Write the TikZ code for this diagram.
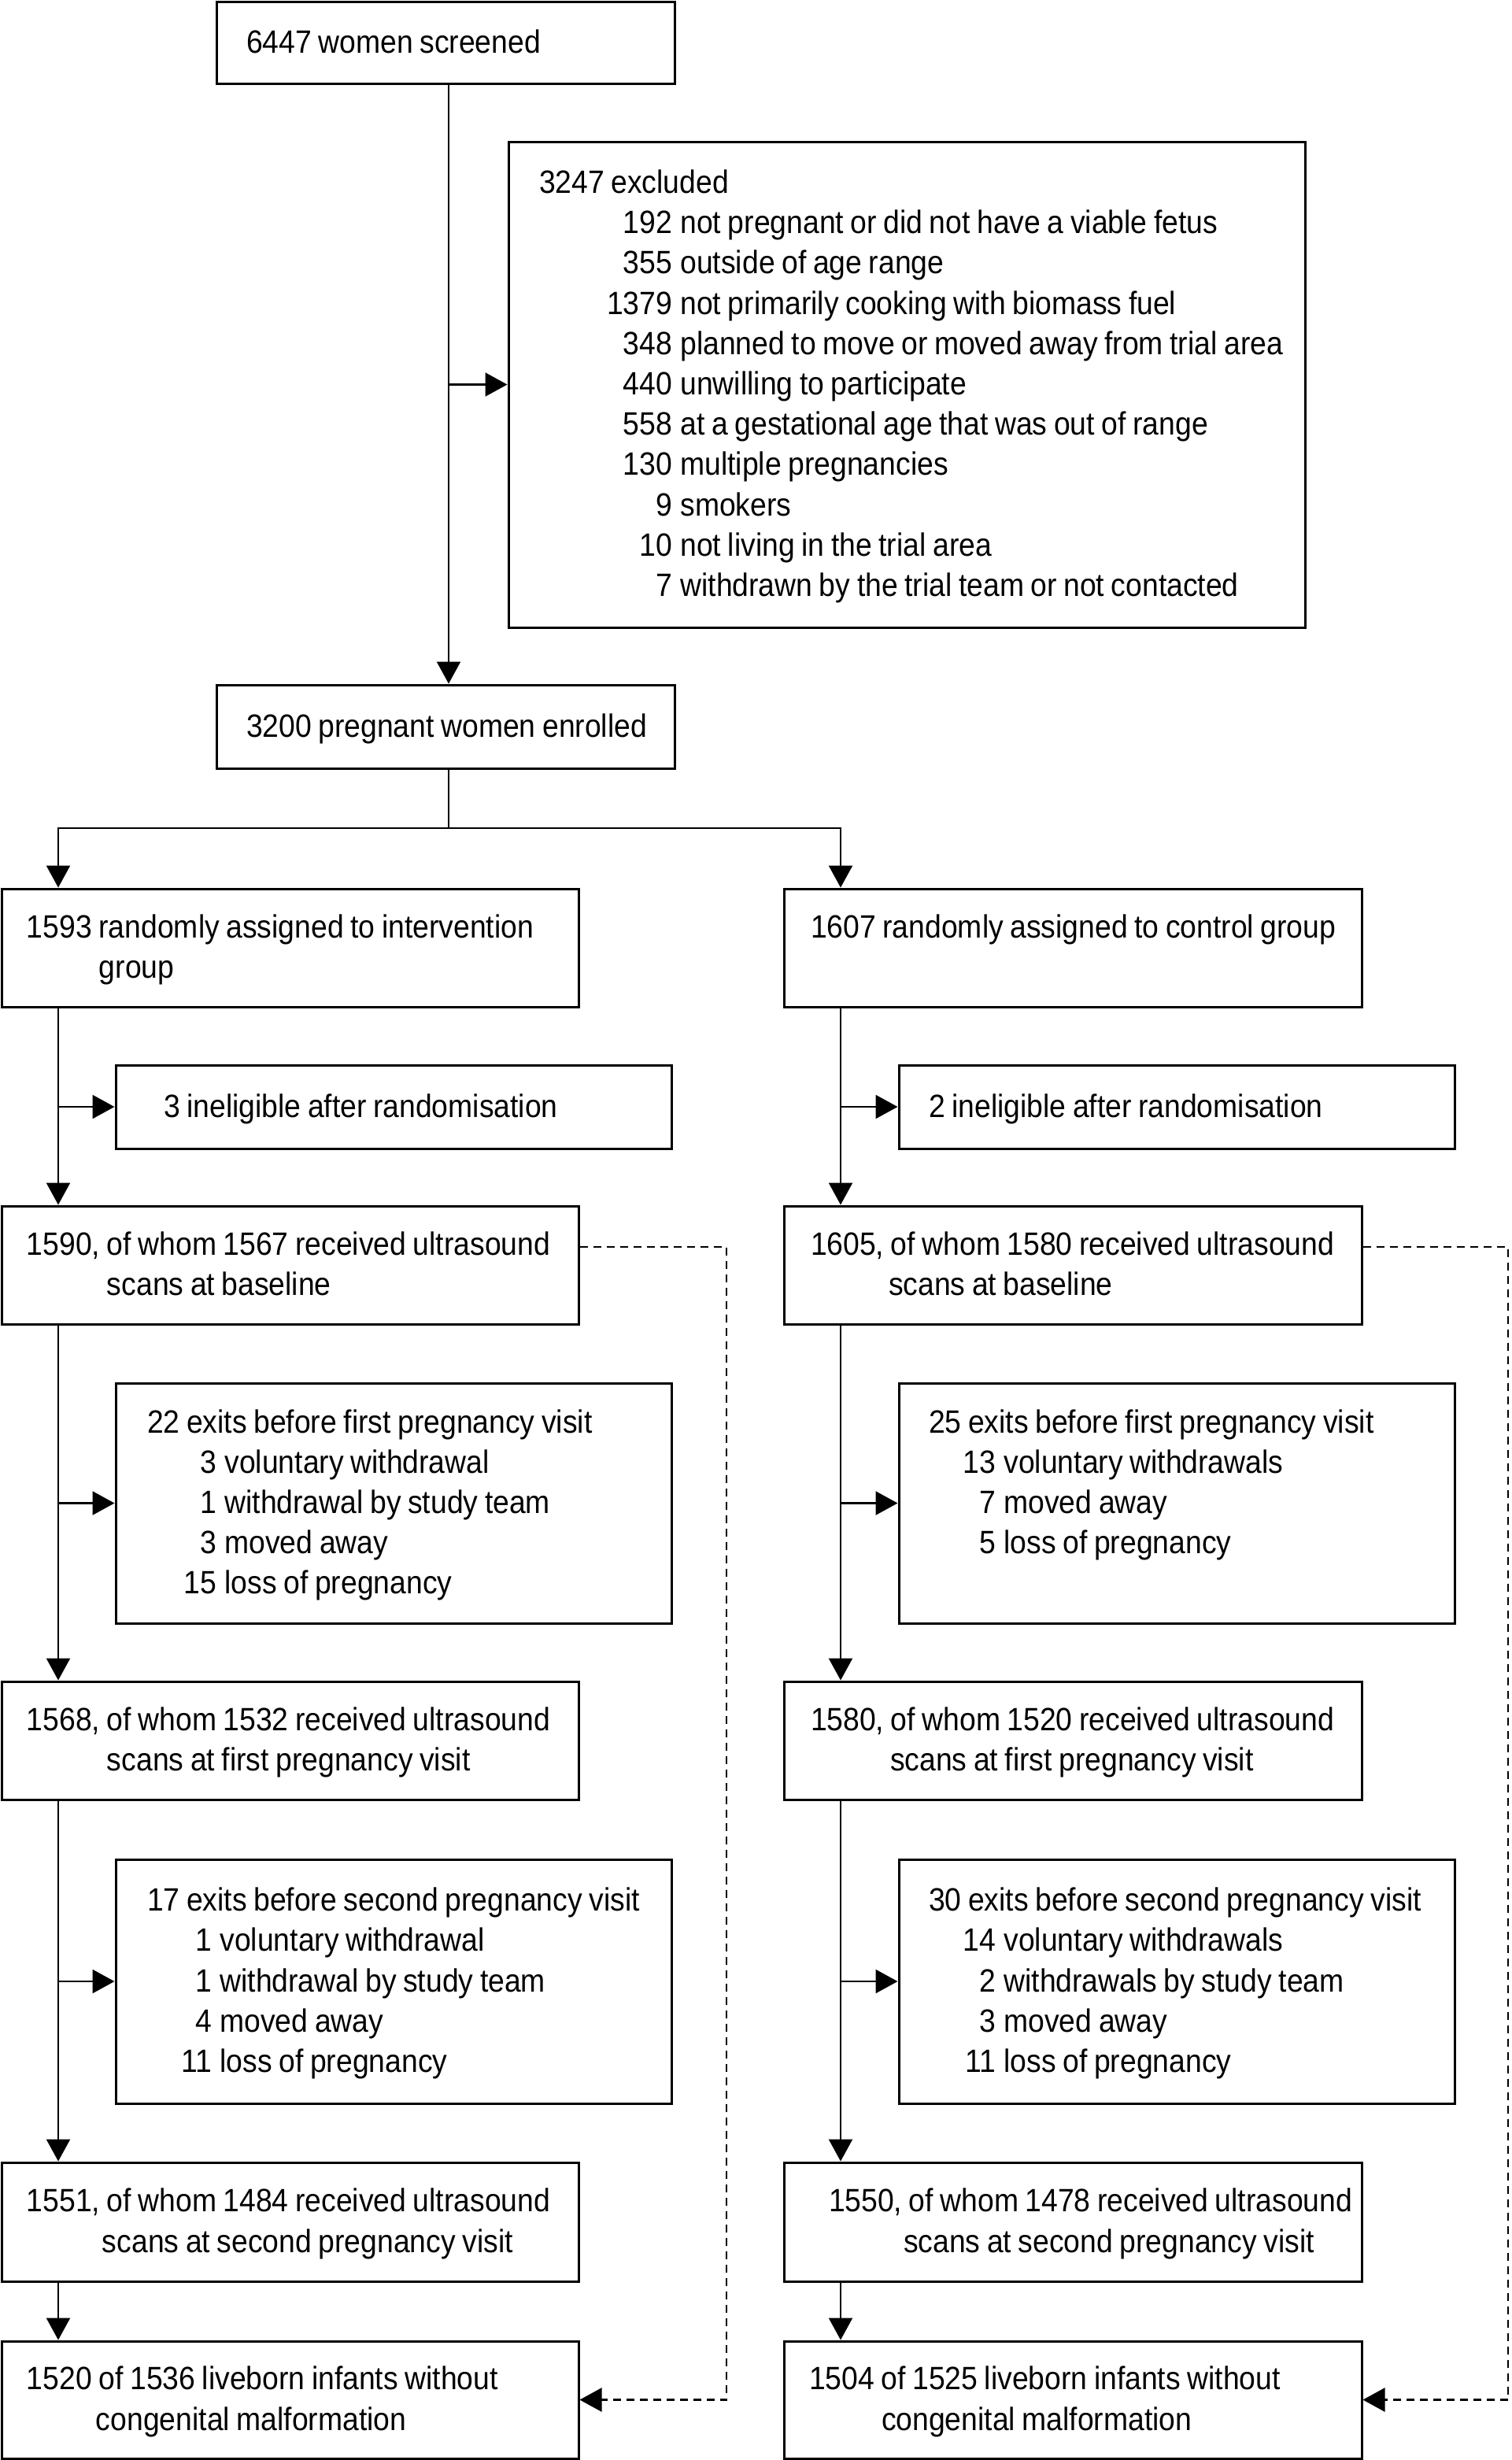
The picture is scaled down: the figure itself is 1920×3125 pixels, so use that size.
\documentclass[tikz,border=0pt]{standalone}
\usepackage{fontspec}
\setmainfont{Liberation Sans}[FakeStretch=0.91]
\usetikzlibrary{arrows.meta,calc}
\setlength\parindent{0pt}
\newcommand\boxfont{\fontsize{41pt}{51.2pt}\selectfont}
\newcommand\zs{\rule[-12.6pt]{0pt}{51.2pt}}
\newcommand\tline[2]{\mbox{\spaceskip=8.6pt\relax\hspace*{#1pt}#2\zs}}
\newcommand\titem[3]{\mbox{\spaceskip=8.6pt\relax\hspace*{#1pt}\llap{#2}\hspace{10.5pt}#3\zs}}
\newcommand\bx[6]{%
  \pgfmathsetmacro\bxw{#4-#2}%
  \pgfmathsetmacro\bxh{#5-#3}%
  \node[box, minimum width=\bxw pt, minimum height=\bxh pt, text width=\bxw pt] (#1) at ({(#2+#4)/2},{(#3+#5)/2}) {#6};}
\tikzset{
  box/.style={draw, line width=3pt, inner xsep=0pt, inner ysep=0pt, align=left,
    font=\boxfont},
  conn/.style={line width=2.4pt},
  arr/.style={conn, -{Triangle[length=28pt,width=30pt]}},
  dsh/.style={line width=2.6pt, dash pattern=on 10pt off 7pt, -{Triangle[length=28pt,width=30pt]}}
}
\begin{document}
\begin{tikzpicture}[x=1pt,y=-1pt]
\useasboundingbox (0,0) rectangle (1920,3125);
\coordinate (m) at (570,0);
\coordinate (L) at (74,0);
\coordinate (R) at (1068,0);
\coordinate (split) at (570,1052);
\coordinate (dl) at (923,1584);
\coordinate (dr) at (1916,1584);

\bx{A}{275}{2}{857}{106}{\tline{38}{6447 women screened}}
\bx{B}{646}{180}{1658}{797}{\tline{39}{3247 excluded}\\
\titem{208}{192}{not pregnant or did not have a viable fetus}\\
\titem{208}{355}{outside of age range}\\
\titem{208}{1379}{not primarily cooking with biomass fuel}\\
\titem{208}{348}{planned to move or moved away from trial area}\\
\titem{208}{440}{unwilling to participate}\\
\titem{208}{558}{at a gestational age that was out of range}\\
\titem{208}{130}{multiple pregnancies}\\
\titem{208}{9}{smokers}\\
\titem{208}{10}{not living in the trial area}\\
\titem{208}{7}{withdrawn by the trial team or not contacted}}
\bx{C}{275}{870}{857}{976}{\tline{38}{3200 pregnant women enrolled}}
\bx{D1}{2}{1129}{735}{1279}{\tline{32}{1593 randomly assigned to intervention}\\ \tline{124}{group}}
\bx{D2}{996}{1129}{1730}{1279}{\tline{34}{1607 randomly assigned to control group}\\ \tline{0}{}}
\bx{E1}{147}{1353}{853}{1459}{\tline{61}{3 ineligible after randomisation}}
\bx{E2}{1142}{1353}{1848}{1459}{\tline{38}{2 ineligible after randomisation}}
\bx{F1}{2}{1532}{735}{1682}{\tline{32}{1590, of whom 1567 received ultrasound}\\ \tline{134}{scans at baseline}}
\bx{F2}{996}{1532}{1730}{1682}{\tline{34}{1605, of whom 1580 received ultrasound}\\ \tline{133}{scans at baseline}}
\bx{H1}{147}{1757}{853}{2062}{\tline{40}{22 exits before first pregnancy visit}\\
\titem{128}{3}{voluntary withdrawal}\\
\titem{128}{1}{withdrawal by study team}\\
\titem{128}{3}{moved away}\\
\titem{128}{15}{loss of pregnancy}}
\bx{H2}{1142}{1757}{1848}{2062}{\tline{38}{25 exits before first pregnancy visit}\\
\titem{123}{13}{voluntary withdrawals}\\
\titem{123}{7}{moved away}\\
\titem{123}{5}{loss of pregnancy}\\
\tline{0}{}}
\bx{I1}{2}{2136}{735}{2286}{\tline{32}{1568, of whom 1532 received ultrasound}\\ \tline{134}{scans at first pregnancy visit}}
\bx{I2}{996}{2136}{1730}{2286}{\tline{34}{1580, of whom 1520 received ultrasound}\\ \tline{135}{scans at first pregnancy visit}}
\bx{J1}{147}{2362}{853}{2672}{\tline{40}{17 exits before second pregnancy visit}\\
\titem{122}{1}{voluntary withdrawal}\\
\titem{122}{1}{withdrawal by study team}\\
\titem{122}{4}{moved away}\\
\titem{122}{11}{loss of pregnancy}}
\bx{J2}{1142}{2362}{1848}{2672}{\tline{38}{30 exits before second pregnancy visit}\\
\titem{123}{14}{voluntary withdrawals}\\
\titem{123}{2}{withdrawals by study team}\\
\titem{123}{3}{moved away}\\
\titem{123}{11}{loss of pregnancy}}
\bx{K1}{2}{2747}{735}{2898}{\tline{32}{1551, of whom 1484 received ultrasound}\\ \tline{128}{scans at second pregnancy visit}}
\bx{K2}{996}{2747}{1730}{2898}{\tline{57}{1550, of whom 1478 received ultrasound}\\ \tline{152}{scans at second pregnancy visit}}
\bx{G1}{2}{2974}{735}{3123}{\tline{32}{1520 of 1536 liveborn infants without}\\ \tline{120}{congenital malformation}}
\bx{G2}{996}{2974}{1730}{3123}{\tline{32}{1504 of 1525 liveborn infants without}\\ \tline{124}{congenital malformation}}

% top part
\draw[arr] (A.south -| m) -- (C.north -| m);
\draw[arr] (B.west -| m) -- (B.west);
\draw[conn] (C.south -| m) -- (split);
\draw[arr] (split) -| (D1.north -| L);
\draw[arr] (split) -| (D2.north -| R);
% left column
\draw[arr] (D1.south -| L) -- (F1.north -| L);
\draw[arr] (E1.west -| L) -- (E1.west);
\draw[arr] (F1.south -| L) -- (I1.north -| L);
\draw[arr] (H1.west -| L) -- (H1.west);
\draw[arr] (I1.south -| L) -- (K1.north -| L);
\draw[arr] (J1.west -| L) -- (J1.west);
\draw[arr] (K1.south -| L) -- (G1.north -| L);
% right column
\draw[arr] (D2.south -| R) -- (F2.north -| R);
\draw[arr] (E2.west -| R) -- (E2.west);
\draw[arr] (F2.south -| R) -- (I2.north -| R);
\draw[arr] (H2.west -| R) -- (H2.west);
\draw[arr] (I2.south -| R) -- (K2.north -| R);
\draw[arr] (J2.west -| R) -- (J2.west);
\draw[arr] (K2.south -| R) -- (G2.north -| R);
% dashed
\draw[dsh] (F1.east |- dl) -- (dl) -- (dl |- G1.east) -- (G1.east);
\draw[dsh] (F2.east |- dr) -- (dr) -- (dr |- G2.east) -- (G2.east);
\end{tikzpicture}
\end{document}
